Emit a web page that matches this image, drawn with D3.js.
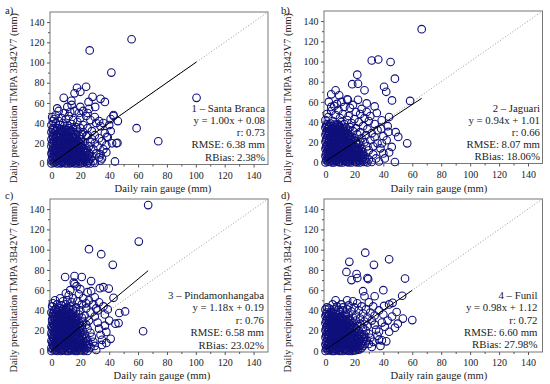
<!DOCTYPE html>
<html><head><meta charset="utf-8">
<script src="https://cdn.jsdelivr.net/npm/d3@7"></script>
<style>body{margin:0;background:#fff} svg{display:block} text{font-family:"Liberation Serif","Times New Roman",serif;fill:#222}</style>
</head><body><svg id="c" width="550" height="384"></svg>
<script>
const tickValues = [0,20,40,60,80,100,120,140];
const minorTicks = [10,30,50,70,90,110,130];
const panelLetters = ["a)","b)","c)","d)"];
const stations = ["1 – Santa Branca","2 – Jaguari","3 – Pindamonhangaba","4 – Funil"];
const fitText = ["y = 1.00x + 0.08","y = 0.94x + 1.01","y = 1.18x + 0.19","y = 0.98x + 1.12"];
const slopes = [1.00,0.94,1.18,0.98];
const intercepts = [0.08,1.01,0.19,1.12];
const rValues = ["0.73","0.66","0.76","0.72"];
const rmseValues = ["6.38","8.07","6.58","6.60"];
const rbiasValues = ["2.38","18.06","23.02","27.98"];
const fitMaxX = [100.5,66.5,67,60];
const xTitle = "Daily rain gauge (mm)";
const yTitle = "Daily precipitation TMPA 3B42V7 (mm)";

// dense cores (gauge mm, satellite mm)
const denseA = [
[1,1.5],[3,1.5],[5.5,1],[7.5,1.5],[9,1],[11.5,1.5],[13,1],[15,1.5],[17,1],[19.5,1.5],[21,1],[23.5,1.5],[25.5,1],
[1,5],[3.5,4.5],[5.5,5],[8,5],[10,4.5],[12,5],[14,4.5],[16.5,5],[18.5,5],[20,4.5],[22,5],[24.5,5],[27,4.5],
[1.5,8.5],[3.5,8],[6,8.5],[8,8.5],[10,8],[12,8.5],[14,8],[16.5,8.5],[18.5,8],[20,8.5],[23,8],[25.5,8.5],
[0.5,12],[2,12],[4,11.5],[6.5,12],[8.5,12],[10,11.5],[12,12],[14.5,12],[16,11.5],[18,12],[20.5,12],[23,11.5],
[1.5,15.5],[3.5,15],[6,15.5],[8,15.5],[10,15],[12,15.5],[14,15],[16,15.5],[18,15],[20.5,15.5],[22.5,15],
[1,19],[3.5,19],[5.5,18.5],[8,19],[10,19],[12,18.5],[14,19],[16,19],[18,18.5],[20.5,19],
[1.5,22.5],[3.5,22],[6,22.5],[8,22.5],[10,22],[12,22.5],[14,22],[16.5,22.5],[18.5,22],
[1,26],[3.5,26],[6,25.5],[8.5,26],[10.5,26],[12.5,25.5],[15,26],[17,26],
[1.5,29.5],[4,29],[6.5,29.5],[9,29.5],[11,29],[13.5,29.5],[16,29],
[1,33],[3.5,33],[6,32.5],[8,33],[10.5,33],[13,32.5]
];
const pointsA = [
[0,0],[2,0.5],[4,0],[6.5,0],[8,0.5],[10,0],[12.5,0],[14,0.5],[16,0],[18.5,0],[20,0],[22,0.5],[24.5,0],[27,0],[30,0.5],
[0,3],[2.5,3.5],[5,3],[7,2.5],[9.5,3],[11,3.5],[13.5,2.5],[15,3],[17.5,3.5],[19,2.5],[21.5,3],[23,3.5],[26,3],[29,2.5],
[0.5,6.5],[2,7],[4.5,6],[6,6.5],[8.5,7],[10.5,6],[12,6.5],[14.5,7],[16,6],[18,6.5],[20.5,7],[22.5,6],[25,6.5],[28,7],
[0,10],[3,10.5],[5,9.5],[7.5,10],[9,10.5],[11.5,10],[13,9.5],[15.5,10],[17,10.5],[19.5,9.5],[21,10],[24,10.5],[26.5,9.5],
[1,13.5],[2.5,14],[5.5,13],[7,13.5],[9.5,14],[11,13],[13.5,13.5],[15,14],[17.5,13],[19,13.5],[22,14],[24.5,13],
[0,17],[3,17.5],[4.5,16.5],[7,17],[8.5,17.5],[11,17],[12.5,16.5],[15,17],[16.5,17.5],[19,17],[21,16.5],[23.5,17.5],[26,17],
[0.5,20.5],[2,21],[4.5,20],[6.5,20.5],[9,21],[10.5,20],[13,20.5],[14.5,21],[17,20],[19.5,20.5],[22,21],
[0,24],[2.5,24.5],[5,23.5],[7,24],[9.5,24.5],[11.5,23.5],[13,24],[15.5,24.5],[18,23.5],[20.5,24],
[1,27.5],[3,28],[5.5,27],[8,27.5],[10,28],[12,27],[14.5,27.5],[17,28],[19.5,27],
[0,31],[2.5,31.5],[5,30.5],[7.5,31],[10,31.5],[12.5,30.5],[15,31],[18,31.5],
[1,34.5],[4,35],[6.5,34],[9,34.5],[12,35],[15,34],
[0,38],[1,42],[0.5,46],[3,40],[2,44],[6,38],[5,42],[8,40],[11,38],[14,39],[17,36],[20,35],[22,31],[25,28],[28,24],[30,20],[29,14],[31,10],[33,6],[34,3],[32,17],[27,21],[24,27],[21,29],
[3,48],[7,45],[10,44],[12,47],[15,43],[18,41],[20,45],[22,38],[25,35],[28,32],[30,28],[33,25],[35,22],[36,14],[38,11],[37,30],[34,37],[31,40],[27,43],[24,47],[19,50],[16,52],[13,51],[9,50],[5,52],[11,56],[14,58],[20,56],[22,52],[26,54],[25,50],[30,46],[33,42],[36,40],[40,38],[39,26],[41,32],[42,20],[44,2],[35,5],[34,9],[38,18],[45,20],[43,47],[46,42],[41,44],[30.3,56],[25.7,61],
[55.5,123],[26.5,112],[41.5,90],[100.5,65],[59,35],[74,22],[17.7,75],[24,76],[20,71],[28.5,66],[34,64],[37,61],[8.5,65],[4,54.5],[16,69.5],[13.8,62],[43,48],[45.7,20.4],[38.4,26.4]
];
const denseB = [
[1,1.5],[3,1],[5,1.5],[7.5,1.5],[9.5,1],[11,1.5],[13.5,1.5],[15,1],[17,1.5],[19.5,1.5],[21,1],[23,1.5],[25.5,1.5],[28,1],
[1.5,5],[3,4.5],[5.5,5],[7.5,4.5],[9,5],[11.5,5],[13,4.5],[15.5,5],[17.5,5],[19,4.5],[21.5,5],[23.5,4.5],[26,5],
[0.5,8.5],[2,8],[4.5,8.5],[6.5,8.5],[8.5,8],[10.5,8.5],[13,8.5],[15,8],[17,8.5],[19.5,8.5],[21,8],[23.5,8.5],[25.5,8],
[1.5,12],[3.5,12],[6,11.5],[8,12],[10,12],[12.5,11.5],[14,12],[16.5,12],[18,11.5],[20.5,12],[22.5,12],[24.5,11.5],
[0.5,15.5],[2.5,15],[4.5,15.5],[6.5,15.5],[8.5,15],[10.5,15.5],[12.5,15.5],[14.5,15],[16.5,15.5],[18.5,15.5],[21,15],
[1.5,19],[3.5,19],[6,18.5],[8,19],[10,19],[12,18.5],[14.5,19],[16.5,19],[18.5,18.5],[21,19],[23,19],
[0.5,22.5],[2.5,22.5],[5,22],[7,22.5],[9,22.5],[11.5,22],[13.5,22.5],[15.5,22.5],[17.5,22],[19.5,22.5],
[1.5,26],[4,26],[6,25.5],[8,26],[10.5,26],[12.5,25.5],[14.5,26],[16.5,26],[18.5,25.5],
[0.5,29.5],[2.5,29.5],[5,29],[7,29.5],[9.5,29.5],[11.5,29],[13.5,29.5],[15.5,29],
[1.5,33],[4,33],[6,32.5],[8.5,33],[10.5,33],[13,32.5],
[0.5,36.5],[2.5,36.5],[5,36],[7.5,36.5],[10,36]
];
const pointsB = [
[0,0],[2,0.5],[4.5,0],[6,0],[8.5,0.5],[10,0],[12,0],[14.5,0.5],[16,0],[18,0],[20.5,0.5],[22,0],[24,0],[26.5,0.5],[29,0],[32,0.5],
[0.5,3],[2,3.5],[4,3],[6.5,2.5],[8,3],[10.5,3.5],[12.5,3],[14,2.5],[16.5,3],[18,3.5],[20,3],[22.5,2.5],[25,3],[27.5,3.5],[30,3],
[0,6.5],[2.5,6],[4,7],[6,6.5],[8.5,6],[10,7],[12,6.5],[14.5,6],[16,7],[18.5,6.5],[20,6],[22,7],[24.5,6.5],[27,6],
[1,10],[3,10.5],[5,9.5],[7,10],[9.5,10.5],[11,9.5],[13.5,10],[15,10.5],[17.5,10],[19,9.5],[21.5,10],[23,10.5],[26,10],
[0,13.5],[2,14],[4.5,13],[6.5,13.5],[8,14],[10.5,13],[12,13.5],[14.5,14],[16,13],[18.5,13.5],[20,14],[23,13.5],[25,14],
[1,17],[3,17.5],[5,16.5],[7.5,17],[9,17.5],[11.5,16.5],[13,17],[15.5,17.5],[17,16.5],[19.5,17],[22,17.5],
[0,20.5],[2.5,21],[4,20],[6.5,20.5],[8,21],[10,20],[12.5,20.5],[14,21],[16.5,20],[18,20.5],[21,21],[24,20.5],
[1,24],[3,24.5],[5.5,23.5],[7,24],[9.5,24.5],[11,23.5],[13.5,24],[15,24.5],[17.5,23.5],[20,24],
[0,27.5],[2,28],[4.5,27],[6,27.5],[8.5,28],[10,27],[12.5,27.5],[14,28],[16.5,27],
[1,31],[3,31.5],[5,30.5],[7.5,31],[9,31.5],[11.5,30.5],[13,31],[15.5,31.5],
[0,34.5],[2.5,35],[4.5,34],[7,34.5],[9.5,35],[12,34],[14,34.5],
[1,38],[3.5,38.5],[6,37.5],[8.5,38],
[0,42],[2,45],[1,48],[5,41],[11,40],[13,38],[17,35],[19,31],[22,28],[25,24],[27,20],[29,16],[30,12],[33,8],[35,4],[37,1],[31,22],[28,27],[24,30],[21,34],[18,39],[15,42],[10,44],[7,47],[4,51],[9,52],[12,48],[16,46],[20,43],[23,40],[26,36],[29,33],[32,29],[34,25],[36,19],[38,14],[40,9],[41,4],[33,16],[36,32],[34,38],[30,41],[27,44],[24,48],[21,50],[17,54],[13,55],[6,56],[11,60],[15.5,62],[22.5,62],[28.5,58.5],[34,55.5],[35.5,49],[28.5,50],[31,46],[38.9,41.8],[38.5,33.5],[43.5,30.3],[42.3,22],[44,45],[45.8,15.4],[50.3,25.3],[48.5,30],[40,26],[39,19],[44,10],[43,36],[25,53],[19,57],[8,58],
[66.5,132],[32,101],[36.5,102],[45,99.5],[48,83],[22,87],[22.5,78],[18.5,77.5],[40.5,75],[42,70],[27,71.5],[7,71.5],[4,67.5],[9.5,66.5],[46,61.5],[58.5,61],[15,62.5],[2.3,60],[4,55],[56.5,19],[48,0.5]
];
const denseC = [
[1,1.5],[3,1],[5.5,1.5],[7.5,1.5],[9,1],[11.5,1.5],[13,1.5],[15.5,1],[17.5,1.5],[19,1.5],[21,1],[23.5,1.5],
[1.5,5],[3.5,4.5],[5.5,5],[7.5,5],[9.5,4.5],[11.5,5],[13.5,5],[15.5,4.5],[18,5],[20,5],[22,4.5],[24.5,5],
[0.5,8.5],[2.5,8],[4,8.5],[6.5,8.5],[8.5,8],[10.5,8.5],[12.5,8.5],[14.5,8],[16.5,8.5],[19,8.5],[21,8],[23,8.5],
[1.5,12],[3.5,12],[5.5,11.5],[7.5,12],[9.5,12],[11.5,11.5],[13.5,12],[15.5,12],[17.5,11.5],[20,12],[22,12],
[0.5,15.5],[2,15.5],[4.5,15],[6.5,15.5],[8.5,15.5],[10.5,15],[12.5,15.5],[14.5,15.5],[16.5,15],[18.5,15.5],[21,15.5],
[1.5,19],[3.5,19],[5.5,18.5],[8,19],[10,19],[12,18.5],[14,19],[16,19],[18,18.5],[20,19],
[0.5,22.5],[2.5,22.5],[4.5,22],[7,22.5],[9,22.5],[11,22],[13,22.5],[15,22.5],[17,22],[19.5,22.5],
[1.5,26],[3.5,26],[5.5,25.5],[8,26],[10,26],[12,25.5],[14,26],[16,26],[18,25.5],
[0.5,29.5],[2.5,29.5],[5,29],[7,29.5],[9,29.5],[11,29],[13,29.5],[15,29.5],[17,29],
[1.5,33],[4,33],[6,32.5],[8,33],[10,33],[12,32.5],[14,33],[16,33],
[1,36.5],[3,36.5],[5,36],[7.5,36.5],[9.5,36.5],[11.5,36],[13.5,36.5],
[2,40],[4.5,40],[7,39.5],[9,40],[11,40]
];
const pointsC = [
[0,0],[2.5,0.5],[4,0],[6.5,0],[8,0.5],[10.5,0],[12,0],[14,0.5],[16.5,0],[18,0],[20,0.5],[22.5,0],[25,0],
[0,3],[2,3.5],[4.5,3],[6,2.5],[8.5,3],[10,3.5],[12.5,3],[14,2.5],[16,3],[18.5,3.5],[20,3],[22,2.5],[24.5,3],[27,3.5],
[1,6.5],[3,7],[5,6],[7.5,6.5],[9,7],[11,6],[13.5,6.5],[15,7],[17,6],[19.5,6.5],[21,7],[23.5,6],[26,6.5],
[0,10],[2,10.5],[4.5,9.5],[6,10],[8.5,10.5],[10,9.5],[12,10],[14.5,10.5],[16,9.5],[18,10],[20.5,10.5],[22,9.5],[25,10],
[1,13.5],[3,14],[5.5,13],[7,13.5],[9,14],[11.5,13],[13,13.5],[15.5,14],[17,13],[19,13.5],[21.5,14],[24,13],
[0,17],[2.5,17.5],[4,16.5],[6.5,17],[8,17.5],[10.5,16.5],[12,17],[14,17.5],[16.5,16.5],[18,17],[20,17.5],[23,17],
[1,20.5],[3,21],[5,20],[7,20.5],[9.5,21],[11,20],[13.5,20.5],[15,21],[17.5,20],[19,20.5],[21.5,21],
[0,24],[2,24.5],[4.5,23.5],[6,24],[8.5,24.5],[10,23.5],[12,24],[14.5,24.5],[16,23.5],[18.5,24],[21,24.5],
[1,27.5],[3.5,28],[5,27],[7.5,27.5],[9,28],[11.5,27],[13,27.5],[15.5,28],[17,27],[19.5,27.5],
[0.5,31],[2.5,31.5],[4,30.5],[6.5,31],[8,31.5],[10.5,30.5],[12,31],[14,31.5],[16.5,30.5],[18,31],
[1,34.5],[3,35],[5.5,34],[7,34.5],[9.5,35],[11,34],[13.5,34.5],[15,35],[17,34],
[2,38],[4,38.5],[6.5,37.5],[8,38],[10.5,38.5],[12.5,37.5],[14.5,38],
[3,41.5],[5.5,42],[8,41],[10,41.5],[12,42],
[0,38],[0.5,44],[1,47],[4,46],[7,45],[10,46],[13,44],[15,41],[17,39],[19,36],[21,33],[22,29],[24,26],[25,22],[27,18],[28,14],[29,9],[30,5],[31,1],[26,30],[23,35],[20,40],[17,43],[14,48],[11,50],[8,49],[6,52],[12,55],[15,52],[18,49],[21,46],[24,42],[27,38],[30,34],[32,28],[33,22],[34,16],[35,11],[35,6],[37,36],[38,18.8],[31,42],[29,46],[26,50],[22,52],[19,56],[13,60],[16,66],[17.4,64],[10,57],[25,58],[27.5,59],[30,53],[33,48],[36,44],[39,41],[44.3,27],[46.5,27.5],[47,37.5],[40,30],[37,25],[41,12],[38,8],[32,40],[24,47],[20,61],
[67,144],[60.5,108],[26,100.5],[34.5,95.5],[42.5,85],[9.5,73],[16,74],[21,73],[27.5,69],[15.5,67.5],[36,63],[33.5,62],[2.5,50],[43,52.5],[51,39],[63.5,19.5],[39.7,61.6]
];
const denseD = [
[1,1.5],[3,1],[5,1.5],[7.5,1.5],[9.5,1],[11,1.5],[13,1.5],[15,1],[17,1.5],[19,1.5],[21,1],[23.5,1.5],
[1.5,5],[3.5,4.5],[5.5,5],[7.5,5],[9,4.5],[11.5,5],[13.5,5],[15,4.5],[17.5,5],[19.5,5],[21,4.5],[23.5,5],[26,5],
[0.5,8.5],[2.5,8],[4,8.5],[6,8.5],[8.5,8],[10.5,8.5],[12.5,8.5],[14.5,8],[16.5,8.5],[18,8.5],[20.5,8],[22.5,8.5],[25,8.5],
[1.5,12],[3.5,12],[5.5,11.5],[7.5,12],[9.5,12],[11.5,11.5],[14,12],[16,12],[18,11.5],[20,12],[22,12],[24,11.5],[26.5,12],
[0.5,15.5],[2,15.5],[4.5,15],[6.5,15.5],[8.5,15.5],[10.5,15],[12.5,15.5],[14.5,15.5],[16,15],[18.5,15.5],[20.5,15.5],[23,15],[25.5,15.5],
[1.5,19],[3.5,19],[5.5,18.5],[7.5,19],[9.5,19],[11.5,18.5],[13.5,19],[15.5,19],[17.5,18.5],[20,19],[22.5,19],
[0.5,22.5],[2.5,22.5],[4.5,22],[6.5,22.5],[8.5,22.5],[10.5,22],[12.5,22.5],[14.5,22.5],[16.5,22],[18.5,22.5],[21,22.5],
[1.5,26],[3.5,26],[5.5,25.5],[7.5,26],[9.5,26],[11.5,25.5],[13.5,26],[15.5,26],[17.5,25.5],
[0.5,29.5],[2.5,29.5],[4.5,29],[6.5,29.5],[8.5,29.5],[10.5,29],[12.5,29.5],[14.5,29.5],
[1.5,33],[3.5,33],[5.5,32.5],[7.5,33],[9.5,33],[11.5,32.5],
[0.5,36.5],[2.5,36.5],[4.5,36],[7,36.5]
];
const pointsD = [
[0,0],[2,0.5],[4.5,0],[6,0],[8.5,0.5],[10,0],[12,0],[14.5,0.5],[16,0],[18,0],[19.5,0.5],
[0.5,3],[2.5,3.5],[4,3],[6,2.5],[8,3],[10.5,3.5],[12,3],[14,2.5],[16.5,3],[18,3.5],[20,3],[22.5,2.5],[25,3],
[0,6.5],[2,7],[4.5,6],[6.5,6.5],[8,7],[10,6],[12.5,6.5],[14,7],[16,6],[18.5,6.5],[20,7],[22,6],[24.5,6.5],[27,7],
[1,10],[3,10.5],[5,9.5],[7,10],[9.5,10.5],[11,9.5],[13,10],[15.5,10.5],[17,9.5],[19,10],[21.5,10.5],[23,9.5],[26,10],[28.5,10.5],
[0,13.5],[2.5,14],[4,13],[6.5,13.5],[8,14],[10,13],[12.5,13.5],[14,14],[16.5,13],[18,13.5],[20.5,14],[22,13],[25,13.5],[27.5,14],
[1,17],[3,17.5],[5.5,16.5],[7,17],[9,17.5],[11.5,16.5],[13,17],[15,17.5],[17.5,16.5],[19,17],[21.5,17.5],[24,17],[26.5,16.5],
[0,20.5],[2,21],[4.5,20],[6,20.5],[8.5,21],[10,20],[12,20.5],[14.5,21],[16,20],[18.5,20.5],[21,21],[23,20],
[1,24],[3,24.5],[5,23.5],[7.5,24],[9,24.5],[11,23.5],[13.5,24],[15,24.5],[17,23.5],[19.5,24],[22,24.5],
[0,27.5],[2.5,28],[4,27],[6.5,27.5],[8,28],[10.5,27],[12,27.5],[14.5,28],[16,27],[18.5,27.5],
[1,31],[3,31.5],[5.5,30.5],[7,31],[9,31.5],[11.5,30.5],[13,31],[15.5,31.5],[17,30.5],
[0,34.5],[2,35],[4.5,34],[6,34.5],[8.5,35],[10,34],[12.5,34.5],[14,35],
[1,38],[3.5,38.5],[5,37.5],[7.5,38],[10,38.5],
[0,41],[1,43],[2.5,42],[6,41],[9,40.5],[12,40],[14,38],[16,36],[19,33],[21,30],[24,27],[26,23],[28,20],[30,17],[31,13],[30,7],[32,4],[20,0.5],[22,1],[29,25],[27,29],[24,32],[21,35],[18,39],[15,41],[12,43],[8,44],[5,46],[11,46],[16,45],[20,43],[23,40],[26,37],[29,33],[32,30],[34,26],[35,21],[36,15],[37,11],[33,9],[38,5],[42,9.5],[39,10.5],[34,35],[31,38],[28,41],[25,44],[22,47],[19,49],[15,50],[7,50],[33,44],[37,40],[40.5,44.5],[44,46],[46.4,47.5],[40,36],[43,30],[41,24],[44,19],[48,23],[49.2,38.5],[50,27],[46,34],[39,28],[37,19],[27,54],[34,54],[30,48],
[27.5,97],[44,90.5],[16.5,88],[33.5,85],[14.5,78],[21.5,76],[22,72],[18,70],[29,72],[29.5,71],[55,71.5],[40,60],[26,59],[53,54.5],[53.5,32],[60,30.5]
];
const allPoints = [denseA.concat(pointsA), denseB.concat(pointsB), denseC.concat(pointsC), denseD.concat(pointsD)];

const layout = [
 {x0:50,x1:268,yT:12,yB:164.5,lx:5,ly:13.5,tr:265,ty:111.5,ts:12.3,yt:[13,98],xt:[163,192]},
 {x0:324,x1:542.5,yT:11,yB:163.5,lx:281,ly:13.5,tr:540,ty:111.8,ts:12.1,yt:[287,98],xt:[439,192]},
 {x0:50,x1:268,yT:199,yB:352,lx:5,ly:199,tr:264,ty:299,ts:12.4,yt:[13,287.5],xt:[162,379]},
 {x0:324,x1:542.5,yT:199,yB:352,lx:281,ly:199,tr:537.5,ty:299,ts:12.3,yt:[287,287.5],xt:[439,379]}
];

const svg = d3.select("#c");
const navy = "#10107c";

layout.forEach((L,i)=>{
  const x = d3.scaleLinear().domain([-1,150]).range([L.x0,L.x1]);
  const y = d3.scaleLinear().domain([-1,150]).range([L.yB,L.yT]);
  const g = svg.append("g");
  g.append("rect").attr("x",L.x0).attr("y",L.yT).attr("width",L.x1-L.x0).attr("height",L.yB-L.yT)
    .attr("fill","none").attr("stroke","#777").attr("stroke-width",1);
  g.append("line").attr("x1",x(0)).attr("y1",y(0)).attr("x2",x(150)).attr("y2",y(150))
    .attr("stroke","#999").attr("stroke-width",1).attr("stroke-dasharray","1,2");
  g.append("g").selectAll("circle").data(allPoints[i]).join("circle")
    .attr("cx",d=>x(d[0])).attr("cy",d=>y(d[1])).attr("r",3.8)
    .attr("fill","none").attr("stroke",navy).attr("stroke-width",1.1);
  g.append("line").attr("x1",x(0)).attr("y1",y(intercepts[i])).attr("x2",x(fitMaxX[i])).attr("y2",y(slopes[i]*fitMaxX[i]+intercepts[i]))
    .attr("stroke","#000").attr("stroke-width",1);
  g.append("g").attr("transform",`translate(0,${L.yB})`)
    .call(d3.axisBottom(x).tickValues(tickValues).tickSize(3).tickPadding(4));
  g.append("g").attr("transform",`translate(0,${L.yB})`)
    .call(d3.axisBottom(x).tickValues(minorTicks).tickSize(2).tickFormat(""));
  g.append("g").attr("transform",`translate(${L.x0},0)`)
    .call(d3.axisLeft(y).tickValues(tickValues).tickSize(3).tickPadding(2.5));
  g.append("g").attr("transform",`translate(${L.x0},0)`)
    .call(d3.axisLeft(y).tickValues(minorTicks).tickSize(2).tickFormat(""));
  g.selectAll(".domain").remove();
  g.selectAll(".tick line").attr("stroke","#555");
  g.selectAll(".tick text").attr("font-size",10).attr("fill","#222");
  g.append("text").attr("x",L.xt[0]).attr("y",L.xt[1]).attr("text-anchor","middle").attr("font-size",10.6).text(xTitle);
  g.append("text").attr("transform",`translate(${L.yt[0]},${L.yt[1]}) rotate(-90)`).attr("dy","0.35em")
    .attr("text-anchor","middle").attr("font-size",10.3).text(yTitle);
  g.append("text").attr("x",L.lx).attr("y",L.ly).attr("font-size",10.6).text(panelLetters[i]);
  const lines = [stations[i], fitText[i], "r: "+rValues[i], "RMSE: "+rmseValues[i]+" mm", "RBias: "+rbiasValues[i]+"%"];
  g.append("g").selectAll("text").data(lines).join("text")
    .attr("x",L.tr).attr("y",(d,k)=>L.ty+k*L.ts).attr("text-anchor","end").attr("font-size",10.8).text(d=>d);
});
</script></body></html>
